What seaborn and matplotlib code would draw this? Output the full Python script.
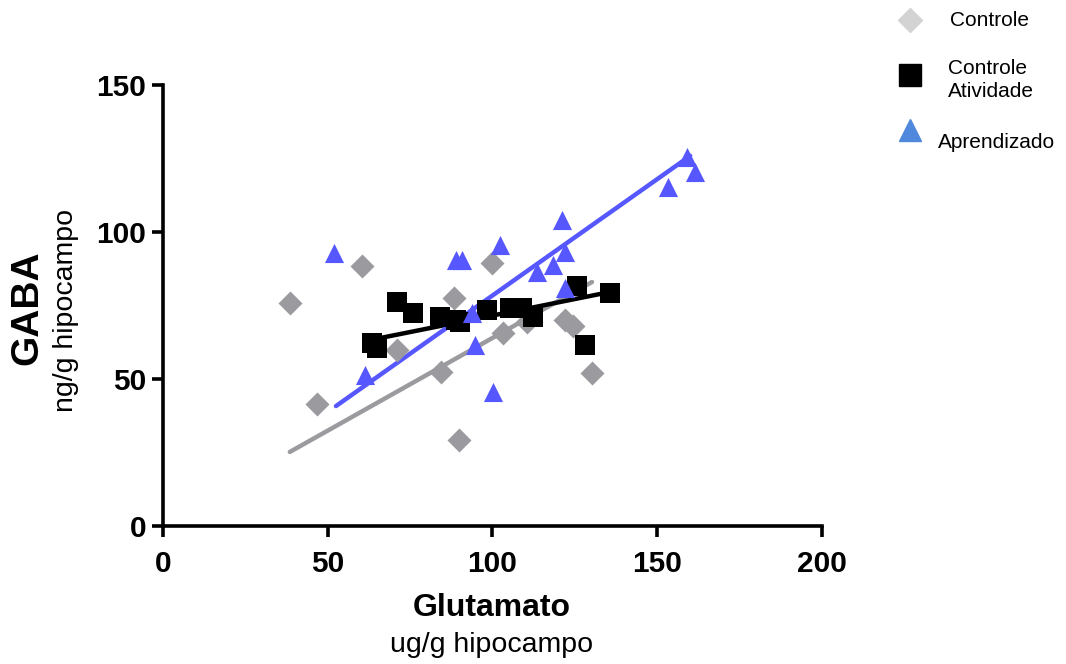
import numpy as np
import pandas as pd
import matplotlib
matplotlib.use('Agg')
import matplotlib.pyplot as plt
from matplotlib.lines import Line2D
import seaborn as sns

# ── dados ─────────────────────────────────────────────────────────────────────
ctrl_x = [38.5, 46.7, 60.4, 71.0, 84.4, 88.3, 89.8, 99.8, 103.2, 110.5, 122.0, 124.5, 130.2]
ctrl_y = [75.9, 41.5, 88.4, 59.9, 52.4, 77.6, 29.3, 89.5, 65.6, 69.4, 70.0, 68.0, 52.0]

ativ_x = [63.4, 65.0, 71.0, 75.9, 84.0, 89.0, 90.1, 98.3, 105.3, 109.0, 112.3, 125.6, 128.0, 135.7]
ativ_y = [62.2, 60.5, 76.2, 72.4, 71.1, 70.0, 69.5, 73.5, 74.1, 74.1, 71.1, 81.6, 61.6, 79.2]

apr_x = [51.9, 61.3, 88.9, 90.7, 93.8, 94.7, 100.2, 102.3, 113.5, 118.4, 121.1, 122.0, 122.0, 153.3, 159.0, 161.5]
apr_y = [92.9, 51.4, 90.5, 90.5, 72.4, 61.6, 45.6, 95.6, 86.4, 88.8, 104.1, 93.2, 81.0, 115.3, 125.5, 120.4]

# retas de regressão (extremos)
fit_ctrl_x = [38.5, 130.2]
fit_ctrl_y = [25.2, 83.0]
fit_ativ_x = [61.3, 135.7]
fit_ativ_y = [62.9, 79.6]
fit_apr_x = [52.5, 160.0]
fit_apr_y = [40.8, 125.9]

groups = ['Controle', 'Controle Atividade', 'Aprendizado']

df = pd.concat([
    pd.DataFrame({'x': ctrl_x, 'y': ctrl_y, 'grupo': groups[0]}),
    pd.DataFrame({'x': ativ_x, 'y': ativ_y, 'grupo': groups[1]}),
    pd.DataFrame({'x': apr_x, 'y': apr_y, 'grupo': groups[2]}),
])

GRAY, BLUE = '#9b9b9f', '#5757ff'
palette = {groups[0]: GRAY, groups[1]: 'black', groups[2]: BLUE}
markers = {groups[0]: 'D', groups[1]: 's', groups[2]: '^'}
sizes = {groups[0]: 150, groups[1]: 190, groups[2]: 190}

sns.set_style('white')
plt.rcParams['font.family'] = ['Liberation Sans', 'DejaVu Sans']
plt.rcParams['text.color'] = 'black'
plt.rcParams['xtick.color'] = 'black'
plt.rcParams['ytick.color'] = 'black'

fig = plt.figure(figsize=(10.66, 6.64), dpi=100)
ax = fig.add_axes([0.1529, 0.2078, 0.6182, 0.6642])

for fx, fy, c in [(fit_ctrl_x, fit_ctrl_y, GRAY), (fit_ativ_x, fit_ativ_y, 'black'),
                  (fit_apr_x, fit_apr_y, BLUE)]:
    ax.plot(fx, fy, color=c, lw=3.2, zorder=1)

for g in groups:
    sub = df[df['grupo'] == g]
    sns.scatterplot(data=sub, x='x', y='y', color=palette[g], marker=markers[g],
                    s=sizes[g], linewidth=0, ax=ax, zorder=2, legend=False)

ax.set_xlim(0, 200)
ax.set_ylim(0, 150)
ax.set_xticks([0, 50, 100, 150, 200])
ax.set_yticks([0, 50, 100, 150])
for s in ['top', 'right']:
    ax.spines[s].set_visible(False)
for s in ['left', 'bottom']:
    ax.spines[s].set_linewidth(2.6)
    ax.spines[s].set_color('black')
ax.tick_params(axis='both', direction='out', length=8, width=2.6, labelsize=21.5,
               left=True, bottom=True, colors='black')
ax.tick_params(axis='x', pad=9)
ax.tick_params(axis='y', pad=4)
for lab in ax.get_xticklabels() + ax.get_yticklabels():
    lab.set_fontweight('bold')
ax.set_xlabel('')
ax.set_ylabel('')

# rótulos dos eixos
fig.text(492 / 1066, 1 - 608 / 664, 'Glutamato', fontsize=23, fontweight='bold',
         ha='center', va='center')
fig.text(492 / 1066, 1 - 645 / 664, 'ug/g hipocampo', fontsize=20.5, ha='center', va='center')
fig.text(27 / 1066, 1 - 308 / 664, 'GABA', fontsize=28, fontweight='bold',
         ha='center', va='center', rotation=90)
fig.text(66 / 1066, 1 - 310 / 664, 'ng/g hipocampo', fontsize=20.5, ha='center', va='center',
         rotation=90)

# legenda
leg_items = [
    (910, 20, 'D', '#d3d3d3', 12, 'Controle', 950, 20),
    (910, 75, 's', 'black', 16, 'Controle\nAtividade', 948, 80),
    (910, 130, '^', '#4f88dd', 16, 'Aprendizado', 938, 142),
]
for mx, my, m, c, ms, txt, tx, ty in leg_items:
    fig.add_artist(Line2D([mx / 1066], [1 - my / 664], marker=m, color=c, markersize=ms,
                          linestyle='none', transform=fig.transFigure))
    fig.text(tx / 1066, 1 - ty / 664, txt, fontsize=15, ha='left', va='center',
             linespacing=1.25)

plt.savefig('out.png', dpi=100)
plt.close()
